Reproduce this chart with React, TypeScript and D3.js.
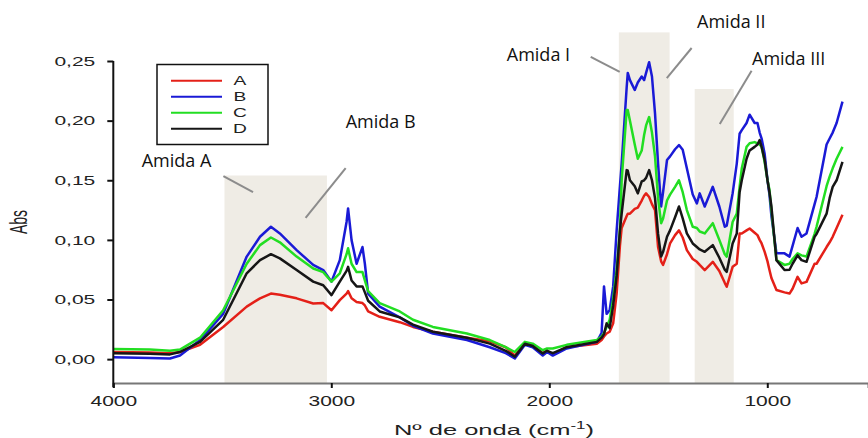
import React, { useEffect, useRef } from "react";
import * as d3 from "d3";

// wavenumbers (cm-1), high to low
const wavenumbers = [
  4000, 3832, 3740, 3694, 3602, 3496, 3388, 3327, 3277, 3236,
  3159, 3083, 3037, 2999, 2961, 2930, 2923, 2907, 2884, 2857,
  2846, 2831, 2778, 2686, 2625, 2534, 2378, 2273, 2200, 2158,
  2112, 2076, 2030, 2010, 1984, 1920, 1782, 1760, 1749, 1737,
  1723, 1707, 1691, 1676, 1668, 1645, 1640, 1630, 1608, 1594,
  1576, 1565, 1556, 1542, 1529, 1515, 1501, 1487, 1478, 1460,
  1446, 1423, 1405, 1388, 1369, 1342, 1323, 1310, 1287, 1250,
  1220, 1195, 1186, 1159, 1140, 1127, 1117, 1095, 1081, 1058,
  1045, 1035, 1026, 1012, 999, 990, 981, 958, 921, 898,
  884, 861, 843, 820, 783, 774, 728, 714, 700, 682,
  655
];

const seriesA = [
  0.006, 0.0055, 0.005, 0.006, 0.012, 0.027, 0.044, 0.051, 0.055, 0.054,
  0.051, 0.0467, 0.047, 0.041, 0.0495, 0.055, 0.057, 0.051, 0.048, 0.047,
  0.045, 0.040, 0.0355, 0.031, 0.027, 0.023, 0.018, 0.015, 0.010, 0.003,
  0.013, 0.011, 0.005, 0.007, 0.004, 0.010, 0.013, 0.016, 0.019, 0.0215,
  0.023, 0.030, 0.055, 0.095, 0.110, 0.120, 0.122, 0.122, 0.126, 0.127,
  0.133, 0.137, 0.139, 0.136, 0.130, 0.125, 0.094, 0.082, 0.079, 0.088,
  0.097, 0.104, 0.108, 0.102, 0.0914, 0.084, 0.0816, 0.079, 0.0747, 0.0816,
  0.074, 0.064, 0.0607, 0.0774, 0.080, 0.1054, 0.1054, 0.108, 0.1096, 0.106,
  0.104, 0.100, 0.097, 0.090, 0.082, 0.0747, 0.068, 0.058, 0.056, 0.055,
  0.059, 0.069, 0.0635, 0.0648, 0.080, 0.080, 0.094, 0.098, 0.1026, 0.110,
  0.121
];

const seriesB = [
  0.0015, 0.001, 0.0005, 0.003, 0.016, 0.038, 0.086, 0.1026, 0.111, 0.1054,
  0.0914, 0.079, 0.0747, 0.065, 0.083, 0.115, 0.1264, 0.0998, 0.080, 0.094,
  0.080, 0.055, 0.044, 0.035, 0.028, 0.0215, 0.016, 0.010, 0.005, 0.0006,
  0.012, 0.010, 0.003, 0.006, 0.003, 0.009, 0.0145, 0.022, 0.061, 0.038,
  0.041, 0.061, 0.108, 0.145, 0.164, 0.228, 0.240, 0.234, 0.2257, 0.232,
  0.237, 0.234, 0.240, 0.249, 0.237, 0.206, 0.164, 0.128, 0.140, 0.167,
  0.170, 0.176, 0.1795, 0.1755, 0.160, 0.138, 0.1306, 0.139, 0.128, 0.1445,
  0.128, 0.111, 0.112, 0.139, 0.164, 0.189, 0.192, 0.198, 0.205, 0.198,
  0.198, 0.190, 0.185, 0.172, 0.150, 0.138, 0.120, 0.0887, 0.0887, 0.086,
  0.095, 0.110, 0.1026, 0.1054, 0.130, 0.136, 0.180, 0.185, 0.190, 0.198,
  0.216
];

const seriesC = [
  0.0085, 0.008, 0.007, 0.008, 0.018, 0.041, 0.080, 0.0956, 0.102, 0.098,
  0.086, 0.076, 0.073, 0.065, 0.072, 0.088, 0.093, 0.080, 0.073, 0.073,
  0.066, 0.057, 0.047, 0.040, 0.033, 0.027, 0.0215, 0.016, 0.010, 0.006,
  0.0145, 0.013, 0.0075, 0.009, 0.009, 0.012, 0.016, 0.019, 0.022, 0.027,
  0.033, 0.050, 0.075, 0.108, 0.150, 0.209, 0.209, 0.200, 0.180, 0.168,
  0.175, 0.188, 0.196, 0.203, 0.190, 0.170, 0.135, 0.114, 0.118, 0.133,
  0.138, 0.1445, 0.150, 0.140, 0.125, 0.111, 0.110, 0.107, 0.1054, 0.114,
  0.100, 0.088, 0.086, 0.115, 0.122, 0.1445, 0.160, 0.178, 0.181, 0.182,
  0.181, 0.180, 0.178, 0.165, 0.150, 0.142, 0.125, 0.083, 0.079, 0.080,
  0.084, 0.0887, 0.087, 0.086, 0.105, 0.111, 0.145, 0.153, 0.160, 0.168,
  0.178
];

const seriesD = [
  0.005, 0.0045, 0.004, 0.006, 0.0145, 0.033, 0.072, 0.083, 0.088, 0.0845,
  0.0747, 0.065, 0.062, 0.0537, 0.065, 0.074, 0.0774, 0.066, 0.061, 0.061,
  0.056, 0.049, 0.040, 0.035, 0.029, 0.023, 0.018, 0.013, 0.007, 0.002,
  0.013, 0.011, 0.0048, 0.007, 0.005, 0.010, 0.0145, 0.018, 0.021, 0.030,
  0.026, 0.045, 0.070, 0.108, 0.122, 0.1585, 0.158, 0.150, 0.145, 0.139,
  0.149, 0.150, 0.152, 0.1585, 0.150, 0.135, 0.105, 0.086, 0.090, 0.1026,
  0.108, 0.119, 0.128, 0.118, 0.1054, 0.097, 0.094, 0.092, 0.090, 0.0956,
  0.085, 0.075, 0.0732, 0.097, 0.1054, 0.140, 0.150, 0.168, 0.175, 0.178,
  0.180, 0.1837, 0.178, 0.167, 0.150, 0.140, 0.128, 0.083, 0.0747, 0.075,
  0.080, 0.087, 0.083, 0.0816, 0.1026, 0.105, 0.122, 0.135, 0.1445, 0.150,
  0.1655
];

const seriesNames = ["A", "B", "C", "D"];
const seriesValues = [seriesA, seriesB, seriesC, seriesD];
const seriesColors = ["#e42018", "#1a1ad6", "#22de22", "#161616"];

const yTicks = [0, 0.05, 0.1, 0.15, 0.2, 0.25];
const xTicks = [4000, 3000, 2000, 1000];

// shaded regions: [from, to] in cm-1, top in Abs
const bandFrom = [3490, 1681, 1333];
const bandTo = [3020, 1448, 1154];
const bandTop = [0.154, 0.274, 0.2265];

// annotation labels and leader lines, in data units
const noteLabels = ["Amida A", "Amida B", "Amida I", "Amida II", "Amida III"];
const noteText = [[3870, 0.161], [2934, 0.1935], [2195, 0.25], [1322, 0.2777], [1070, 0.2466]];
const noteLine = [
  [3495, 0.1535, 3359, 0.1401],
  [2934, 0.1602, 3118, 0.1185],
  [1810, 0.2534, 1677, 0.2408],
  [1347, 0.2609, 1461, 0.2357],
  [1072, 0.2419, 1218, 0.1971]
];

const W = 868, H = 438;
const SANS = "'Liberation Sans', Arial, sans-serif";

function App() {
  const ref = useRef<SVGSVGElement>(null);

  useEffect(() => {
    const svg = d3.select(ref.current);
    svg.selectAll("*").remove();

    const margin = { top: 61, right: 0, bottom: 55, left: 113.3 };

    const x = d3.scaleLinear()
      .domain([4000, 538])
      .range([margin.left, W - margin.right]);

    const y = d3.scaleLinear()
      .domain([-0.02, 0.25])
      .range([H - margin.bottom, margin.top]);

    svg.append("rect").attr("width", W).attr("height", H).attr("fill", "#fff");

    // shaded amide bands
    svg.append("g")
      .selectAll("rect")
      .data(bandFrom)
      .join("rect")
      .attr("x", (d) => x(d))
      .attr("width", (d, i) => x(bandTo[i]) - x(d))
      .attr("y", (d, i) => y(bandTop[i]))
      .attr("height", (d, i) => y(-0.02) - y(bandTop[i]))
      .attr("fill", "#efece5");

    // leader lines
    svg.append("g")
      .selectAll("line")
      .data(noteLine)
      .join("line")
      .attr("x1", (d) => x(d[0]))
      .attr("y1", (d) => y(d[1]))
      .attr("x2", (d) => x(d[2]))
      .attr("y2", (d) => y(d[3]))
      .attr("stroke", "#8c8c8c")
      .attr("stroke-width", 2);

    svg.append("g")
      .selectAll("text")
      .data(noteLabels)
      .join("text")
      .attr("x", (d, i) => x(noteText[i][0]))
      .attr("y", (d, i) => y(noteText[i][1]))
      .attr("font-family", "'Open Sans', sans-serif")
      .attr("font-size", 18)
      .attr("fill", "#111")
      .text((d) => d);

    // spectra
    const line = d3.line<number>()
      .x((d, i) => x(wavenumbers[i]))
      .y((d) => y(d));

    svg.append("g")
      .selectAll("path")
      .data(seriesValues)
      .join("path")
      .attr("d", (d) => line(d))
      .attr("fill", "none")
      .attr("stroke", (d, i) => seriesColors[i])
      .attr("stroke-width", 2.5)
      .attr("stroke-linejoin", "round");

    // x axis
    const xAxis = svg.append("g")
      .attr("transform", `translate(0,${H - margin.bottom})`)
      .call(d3.axisBottom(x).tickValues(xTicks).tickSize(5).tickFormat(d3.format("d")));
    xAxis.select(".domain").attr("stroke", "#777").attr("stroke-width", 2);
    xAxis.selectAll(".tick line").attr("stroke", "#111").attr("stroke-width", 2);
    xAxis.selectAll(".tick text")
      .attr("y", 0).attr("dy", 0)
      .attr("transform", "translate(0,23) scale(1.5,1)")
      .attr("font-family", SANS).attr("font-size", 14).attr("fill", "#222");

    // y axis
    const yAxis = svg.append("g")
      .attr("transform", `translate(${margin.left},0)`)
      .call(d3.axisLeft(y).tickValues(yTicks).tickSize(6)
        .tickFormat((d) => d3.format(".2f")(d as number).replace(".", ",")));
    yAxis.select(".domain").remove();
    yAxis.append("line")
      .attr("y1", y(0.25)).attr("y2", H - margin.bottom + 4)
      .attr("stroke", "#111").attr("stroke-width", 2);
    yAxis.selectAll(".tick line").attr("stroke", "#111").attr("stroke-width", 2);
    yAxis.selectAll(".tick text")
      .attr("x", 0).attr("dy", "0.35em")
      .attr("transform", "translate(-18,0) scale(1.75,1)")
      .attr("font-family", SANS).attr("font-size", 12).attr("fill", "#222");

    // axis titles
    const xt = svg.append("text")
      .attr("transform", `translate(494,435) scale(1.7,1)`)
      .attr("text-anchor", "middle")
      .attr("font-family", SANS).attr("font-size", 15).attr("fill", "#222");
    xt.append("tspan").text("Nº de onda (cm");
    xt.append("tspan").attr("font-size", 10).attr("dy", -6).text("-1");
    xt.append("tspan").attr("dy", 6).text(")");

    svg.append("text")
      .attr("transform", "translate(27,222) scale(1.7,1) rotate(-90)")
      .attr("text-anchor", "middle")
      .attr("font-family", SANS).attr("font-size", 14).attr("fill", "#222")
      .text("Abs");

    // legend
    const legend = svg.append("g");
    legend.append("rect")
      .attr("x", 157).attr("y", 64.5).attr("width", 111).attr("height", 80)
      .attr("fill", "#fff").attr("stroke", "#111").attr("stroke-width", 1.5);
    const item = legend.selectAll("g.item")
      .data(seriesNames)
      .join("g")
      .attr("class", "item")
      .attr("transform", (d, i) => `translate(171,${80.7 + i * 16})`);
    item.append("line")
      .attr("x2", 51)
      .attr("stroke", (d, i) => seriesColors[i])
      .attr("stroke-width", 2);
    item.append("text")
      .attr("transform", "translate(69,0) scale(1.6,1)")
      .attr("dy", "0.36em")
      .attr("text-anchor", "middle")
      .attr("font-family", SANS).attr("font-size", 12).attr("fill", "#222")
      .text((d) => d);
  }, []);

  return (
    <svg ref={ref} width={W} height={H}
      style={{ position: "absolute", left: 0, top: 0, display: "block" }} />
  );
}

export default App;
